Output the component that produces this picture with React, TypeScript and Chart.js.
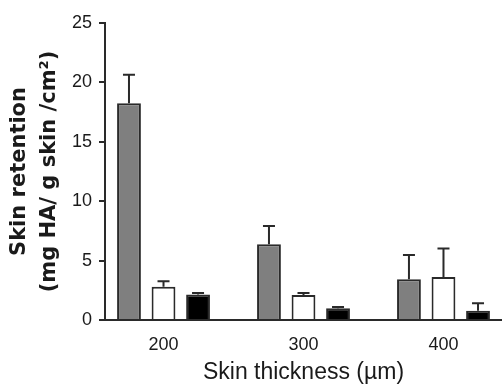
import React, { useEffect, useRef } from "react";
import { Chart, registerables } from "chart.js";

Chart.register(...registerables);

// Skin thickness groups (µm)
const thickness = [200, 300, 400];
// Mean skin retention (mg HA / g skin / cm²) for the three formulations
const grayValues = [18.25, 6.37, 3.42];
const whiteValues = [2.8, 2.1, 3.62];
const blackValues = [2.15, 0.98, 0.78];
// Upper error (SD) for each bar
const grayErrors = [2.4, 1.55, 2.05];
const whiteErrors = [0.47, 0.17, 2.4];
const blackErrors = [0.12, 0.12, 0.62];
// Axis ticks
const xTicks = [200, 300, 400];
const yMax = 25;
const yStep = 5;

const ink = "#2a2a2a";

const errorBarPlugin = {
  id: "errorBars",
  afterDatasetsDraw(chart: any) {
    const { ctx } = chart;
    const yScale = chart.scales.y;
    chart.data.datasets.forEach((ds: any, di: number) => {
      const meta = chart.getDatasetMeta(di);
      meta.data.forEach((bar: any, i: number) => {
        const v = ds.data[i].y;
        const e = ds.errors[i];
        const yTop = yScale.getPixelForValue(v + e);
        const x = bar.x;
        ctx.save();
        ctx.strokeStyle = ink;
        ctx.lineWidth = 2;
        ctx.beginPath();
        ctx.moveTo(x, bar.y);
        ctx.lineTo(x, yTop);
        ctx.moveTo(x - 6, yTop);
        ctx.lineTo(x + 6, yTop);
        ctx.stroke();
        ctx.restore();
      });
    });
  },
};

function toPoints(values: number[]) {
  return values.map((y, i) => ({ x: thickness[i], y }));
}

export default function App() {
  const canvasRef = useRef<HTMLCanvasElement | null>(null);

  useEffect(() => {
    if (!canvasRef.current) return;
    const barBase = {
      borderColor: ink,
      borderWidth: 2,
      borderSkipped: "start",
      categoryPercentage: 0.74,
      barPercentage: 0.69,
    };
    const chart = new Chart(canvasRef.current, {
      type: "bar",
      data: {
        datasets: [
          { ...barBase, data: toPoints(grayValues), errors: grayErrors, backgroundColor: "#7f7f7f" } as any,
          { ...barBase, data: toPoints(whiteValues), errors: whiteErrors, backgroundColor: "#ffffff" } as any,
          { ...barBase, data: toPoints(blackValues), errors: blackErrors, backgroundColor: "#000000" } as any,
        ],
      },
      options: {
        animation: false,
        responsive: false,
        devicePixelRatio: 1,
        layout: { padding: { top: 23, right: 0, bottom: 0, left: 0 } },
        plugins: {
          legend: { display: false },
          tooltip: { enabled: false },
        },
        scales: {
          x: {
            type: "linear",
            offset: false,
            min: 158.2,
            max: 441.8,
            afterBuildTicks: (scale: any) => {
              scale.ticks = xTicks.map((value) => ({ value }));
            },
            afterFit: (scale: any) => {
              scale.height = 65;
            },
            grid: { display: false, drawTicks: false, offset: false },
            border: { display: true, color: ink, width: 2 },
            ticks: {
              padding: 14,
              color: "#1a1a1a",
              font: { family: "'Liberation Sans', Arial, sans-serif", size: 18 },
              callback: (v: any) => String(v),
            },
            title: {
              display: true,
              text: "Skin thickness (µm)",
              color: "#1a1a1a",
              font: { family: "'Liberation Sans', Arial, sans-serif", size: 23, lineHeight: 1.1 },
              padding: { top: 0, bottom: 0 },
            },
          },
          y: {
            min: 0,
            max: yMax,
            afterFit: (scale: any) => {
              scale.width = 105;
            },
            ticks: {
              stepSize: yStep,
              padding: 7,
              color: "#1a1a1a",
              font: { family: "'Liberation Sans', Arial, sans-serif", size: 18 },
            },
            grid: {
              display: true,
              drawOnChartArea: false,
              drawTicks: true,
              tickLength: 6,
              color: ink,
              lineWidth: 2,
            },
            border: { display: true, color: ink, width: 2 },
            title: {
              display: true,
              text: ["Skin retention", "(mg HA/ g skin /cm²)"],
              color: "#1a1a1a",
              font: { family: "'DejaVu Sans', sans-serif", size: 21, weight: "bold", lineHeight: 30 / 21 },
              padding: { top: 5, bottom: 7 },
            },
          },
        },
      },
      plugins: [errorBarPlugin],
    } as any);
    return () => chart.destroy();
  }, []);

  return (
    <div style={{ position: "fixed", left: 0, top: 0, width: 502, height: 385, background: "#fff" }}>
      <canvas ref={canvasRef} width={502} height={385} />
    </div>
  );
}
